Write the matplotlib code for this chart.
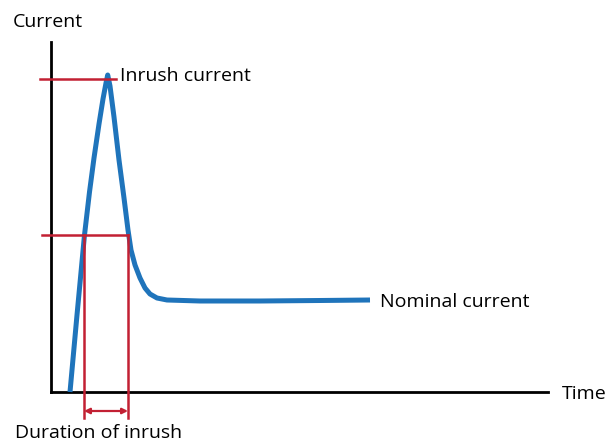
import matplotlib
matplotlib.use("Agg")
import matplotlib.pyplot as plt

plt.rcParams.update({
    "font.family": ["Open Sans", "DejaVu Sans"],
    "font.size": 14,
})

# curve: time and current (arbitrary units, origin at axis corner)
time = [19, 26, 33.5, 38.5, 43, 48, 52, 55, 56.7, 59, 63, 68, 73, 77, 80, 84, 89, 94, 99, 106, 116, 149, 209, 269, 319]
current = [0, 77, 157, 200, 234, 268, 293, 309, 317, 306, 275, 232, 194, 162, 142, 127, 114, 104, 98, 94, 92, 91, 91, 91.5, 92]

peak_level = 313
dur_level = 157
dur_start, dur_end = 33, 77
axis_tmax, axis_imax = 497, 350

fig = plt.figure(figsize=(6.1, 4.42), dpi=100)
ax = fig.add_axes([0, 0, 1, 1])
ax.set_xlim(-51, 559)
ax.set_ylim(-50, 392)
ax.axis("off")

blue = "#1f74bb"
red = "#c22033"

# axes
ax.plot([0, 0], [0, axis_imax], color="black", lw=2.0, solid_capstyle="projecting")
ax.plot([0, axis_tmax], [0, 0], color="black", lw=2.0, solid_capstyle="projecting")

# curve
ax.plot(time, current, color=blue, lw=3.6, solid_joinstyle="round", solid_capstyle="butt", zorder=3)

# markers
ax.plot([-11, 65], [peak_level, peak_level], color=red, lw=1.8, zorder=4)
ax.plot([-9, dur_end], [dur_level, dur_level], color=red, lw=1.8, zorder=4)
ax.plot([dur_start, dur_start], [dur_level, -26], color=red, lw=1.8, zorder=4)
ax.plot([dur_end, dur_end], [dur_level, -26], color=red, lw=1.8, zorder=4)
ax.annotate("", xy=(dur_start, -19), xytext=(dur_end, -19),
            arrowprops=dict(arrowstyle="<|-|>", color=red, lw=1.6,
                            mutation_scale=8, shrinkA=0, shrinkB=0))

ax.text(-38, 365, "Current", ha="left", va="baseline")
ax.text(69, 311, "Inrush current", ha="left", va="baseline")
ax.text(329, 85, "Nominal current", ha="left", va="baseline")
ax.text(511, -7, "Time", ha="left", va="baseline")
ax.text(-36, -46.5, "Duration of inrush", ha="left", va="baseline")

fig.savefig("out.png", dpi=100)
